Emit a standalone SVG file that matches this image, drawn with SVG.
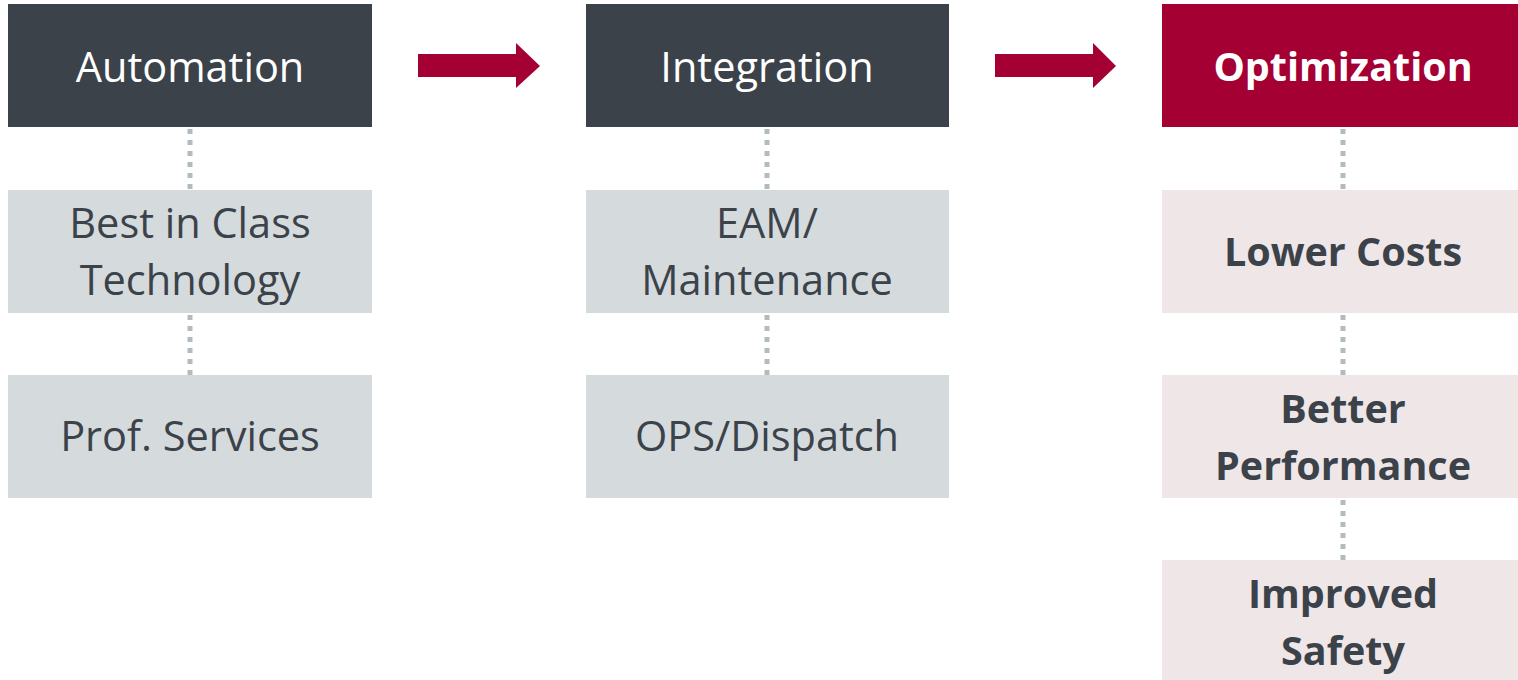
<svg xmlns="http://www.w3.org/2000/svg" width="1518" height="680" viewBox="0 0 1518 680">
<style>
.hd{fill:#3b4249}
.hr{fill:#a50034}
.sg{fill:#d5dadd}
.sp{fill:#efe6e8}
.t{font-family:"Open Sans","Noto Sans",sans-serif;font-size:41.5px;text-anchor:middle}
.w{fill:#ffffff}
.d{fill:#3b4249}
.b{font-weight:bold;font-size:39.5px}
.dot{stroke:#b3bbbf;stroke-width:5;stroke-dasharray:5 6;fill:none}
.arr{fill:#a50034}
</style>
<rect width="1518" height="680" fill="#ffffff"/>
<g id="connectors">
<line class="dot" x1="190" y1="129" x2="190" y2="190"/>
<line class="dot" x1="190" y1="315" x2="190" y2="375"/>
<line class="dot" x1="767" y1="129" x2="767" y2="190"/>
<line class="dot" x1="767" y1="315" x2="767" y2="375"/>
<line class="dot" x1="1343" y1="129" x2="1343" y2="190"/>
<line class="dot" x1="1343" y1="315" x2="1343" y2="375"/>
<line class="dot" x1="1343" y1="500" x2="1343" y2="560"/>
<polygon class="arr" points="418,54 516,54 516,43 540,66 516,88 516,77 418,77"/>
<polygon class="arr" points="995,54 1093,54 1093,43 1116,66 1093,88 1093,77 995,77"/>
</g>
<g id="automation"><rect class="hd" x="8" y="4" width="364" height="123"/><text class="t w" x="190" y="82">Automation</text></g>
<g id="best-in-class"><rect class="sg" x="8" y="190" width="364" height="123"/><text class="t d" x="190" y="238">Best in Class</text><text class="t d" x="190" y="295">Technology</text></g>
<g id="prof-services"><rect class="sg" x="8" y="375" width="364" height="123"/><text class="t d" x="190" y="451">Prof. Services</text></g>
<g id="integration"><rect class="hd" x="586" y="4" width="363" height="123"/><text class="t w" x="767" y="82">Integration</text></g>
<g id="eam"><rect class="sg" x="586" y="190" width="363" height="123"/><text class="t d" x="767" y="238">EAM/</text><text class="t d" x="767" y="295">Maintenance</text></g>
<g id="ops"><rect class="sg" x="586" y="375" width="363" height="123"/><text class="t d" x="767" y="451">OPS/Dispatch</text></g>
<g id="optimization"><rect class="hr" x="1162" y="4" width="356" height="123"/><text class="t w b" x="1343" y="81">Optimization</text></g>
<g id="lower-costs"><rect class="sp" x="1162" y="190" width="356" height="123"/><text class="t d b" x="1343" y="266">Lower Costs</text></g>
<g id="better-performance"><rect class="sp" x="1162" y="375" width="356" height="123"/><text class="t d b" x="1343" y="423">Better</text><text class="t d b" x="1343" y="480">Performance</text></g>
<g id="improved-safety"><rect class="sp" x="1162" y="560" width="356" height="120"/><text class="t d b" x="1343" y="608">Improved</text><text class="t d b" x="1343" y="665">Safety</text></g>
</svg>
